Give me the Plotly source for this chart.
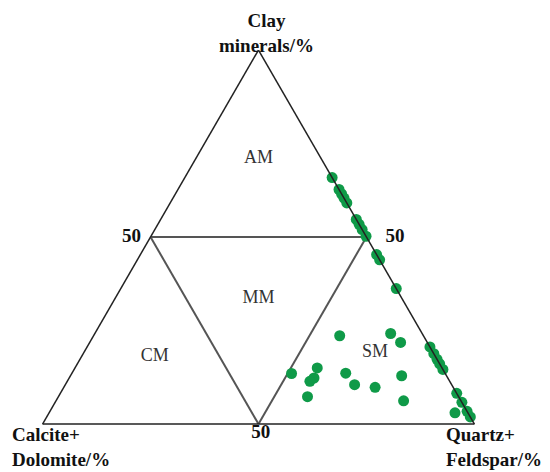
import plotly.graph_objects as go

# Sample compositions (%): a = Clay minerals, b = Calcite+Dolomite, c = Quartz+Feldspar
clay = [65.9, 62.7, 61.5, 60.4, 59.1, 54.7, 53.4, 52.0, 50.2, 45.3, 43.9, 36.2,
        20.6, 18.8, 17.3, 16.1, 14.6, 8.2, 5.8, 3.4, 1.9,
        3.0, 23.6, 24.2, 21.8, 13.5, 15.0, 12.3, 11.4, 7.3, 13.6, 10.5, 9.8, 12.9, 6.2]
carb = [0, 0, 0, 0, 0, 0, 0, 0, 0, 0, 0, 0,
        0, 0, 0, 0, 0, 0, 0, 0, 0,
        3.0, 19.4, 7.3, 6.2, 35.6, 28.9, 31.0, 32.4, 35.0, 23.0, 22.5, 18.1, 10.4, 13.3]
qf = [round(100 - a - b, 1) for a, b in zip(clay, carb)]

# Lithofacies zone labels and their label positions (a, b, c)
zones = ["AM", "MM", "CM", "SM"]
zone_a = [71, 33.5, 18, 19]
zone_b = [14.5, 33.25, 65, 13.5]
zone_c = [14.5, 33.25, 17, 67.5]

# 50 % marks on the three edges (a, b, c)
mark_text = ["50", "50", "50"]
mark_a = [50, 50, 0]
mark_b = [50, 0, 50]
mark_c = [0, 50, 50]

# axis titles
title_top = "Clay<br>minerals/%"
title_left = "Calcite+<br>Dolomite/%"
title_right = "Quartz+<br>Feldspar/%"

serif = "Liberation Serif, Times New Roman, serif"
nb = "\u00a0"

fig = go.Figure()
fig.add_trace(go.Scatterternary(
    a=zone_a, b=zone_b, c=zone_c, mode="text", text=zones,
    textfont=dict(family=serif, size=18, color="#333333"),
    hoverinfo="skip", showlegend=False))
fig.add_trace(go.Scatterternary(
    a=mark_a, b=mark_b, c=mark_c, mode="text",
    text=[mark_text[0] + nb * 2, nb * 4 + mark_text[1], nb + mark_text[2]],
    textposition=["middle left", "middle right", "bottom center"],
    textfont=dict(family=serif, size=19, color="#111111", weight="bold"),
    hoverinfo="skip", showlegend=False, cliponaxis=False))
fig.add_trace(go.Scatterternary(
    a=clay, b=carb, c=qf, mode="markers",
    marker=dict(size=11, color="#0f9a48", line=dict(width=0)),
    showlegend=False, cliponaxis=False))

axis_common = dict(
    min=0, tickvals=[50], ticks="",
    showticklabels=False, showgrid=True, gridcolor="#555555", gridwidth=1.5,
    showline=True, linecolor="#222222", linewidth=1.5,
    title=dict(text=""),
)

fig.update_layout(
    width=550, height=472,
    margin=dict(l=0, r=0, t=0, b=0),
    paper_bgcolor="white",
    ternary=dict(
        sum=100,
        bgcolor="white",
        domain=dict(x=[30.5/550, 470.5/550], y=[56/472, 430/472]),
        aaxis=axis_common,
        baxis=axis_common,
        caxis=axis_common,
    ),
    showlegend=False,
)

title_font = dict(family=serif, size=19, color="#111111", weight="bold")
fig.add_annotation(text=title_top, x=258/550, y=1.0, xref="paper", yref="paper",
                   xanchor="center", yanchor="top", align="center",
                   showarrow=False, font=title_font)
fig.add_annotation(text=title_left, x=2/550, y=8/472, xref="paper", yref="paper",
                   xanchor="left", yanchor="bottom", align="left",
                   showarrow=False, font=title_font)
fig.add_annotation(text=title_right, x=436/550, y=8/472, xref="paper", yref="paper",
                   xanchor="left", yanchor="bottom", align="left",
                   showarrow=False, font=title_font)

fig.write_html("out.html")
